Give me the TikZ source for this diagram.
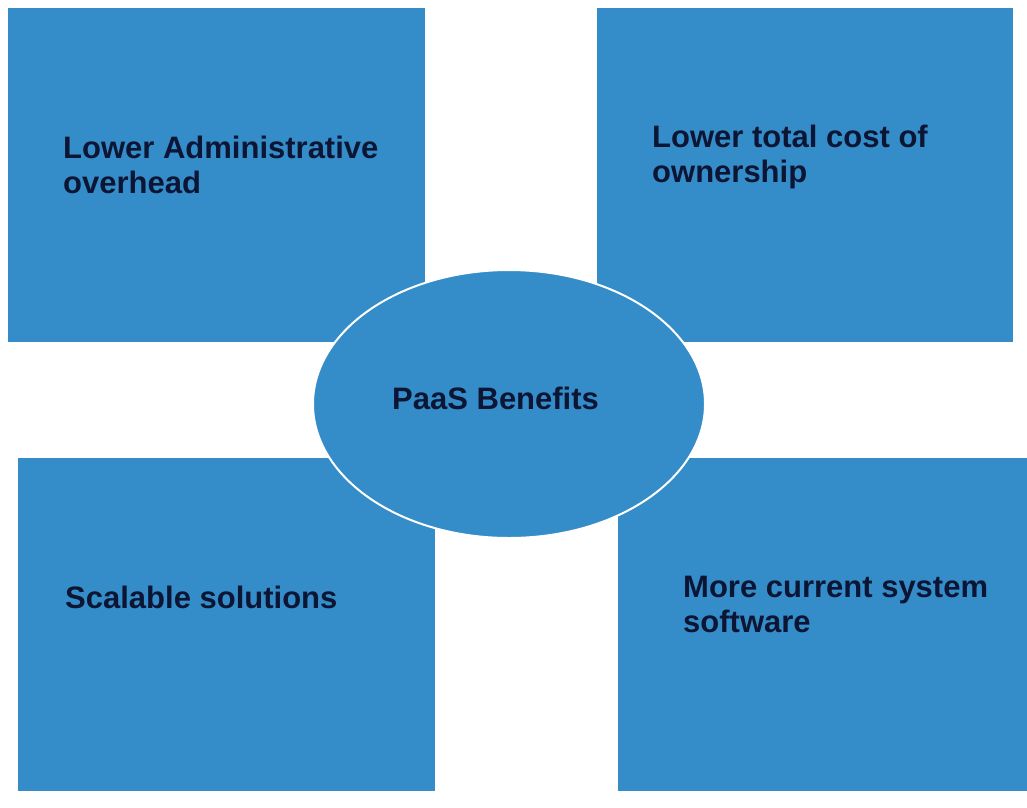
\documentclass[tikz,border=0pt]{standalone}
\usepackage{fontspec}
\setmainfont{Liberation Sans}
\usepackage{tikz}
\usetikzlibrary{shapes.geometric}
\definecolor{paasblue}{RGB}{52,141,201}
\definecolor{paasink}{RGB}{12,22,52}

\begin{document}
\begin{tikzpicture}[x=1pt, y=-1pt,
    benefitbox/.style={fill=paasblue, draw=none, inner sep=0, anchor=north west},
    benefittext/.style={anchor=base west, align=left, inner sep=0, text=paasink,
        font=\fontsize{31}{35}\selectfont\bfseries}]
            \useasboundingbox[fill=white] (0,0) rectangle (1027,807);
            % the four boxes
            \node[benefitbox, minimum width=417pt, minimum height=334pt] (admin) at (8,8) {};
            \node[benefitbox, minimum width=416pt, minimum height=334pt] (cost) at (597,8) {};
            \node[benefitbox, minimum width=417pt, minimum height=333pt] (scale) at (18,458) {};
            \node[benefitbox, minimum width=409pt, minimum height=333pt] (current) at (618,458) {};
            % centre
            \node[ellipse, fill=paasblue, draw=white, line width=2pt, inner sep=0,
                minimum width=392pt, minimum height=268pt] (paas) at (509,404) {};
            % texts (base = last line)
            \node[benefittext] (admintext) at (63,193) {Lower Administrative\\overhead};
            \node[benefittext] (costtext) at (652,182) {Lower total cost of\\ownership};
            \node[benefittext] (scaletext) at (65,608) {Scalable solutions};
            \node[benefittext] (currenttext) at (683,632) {More current system\\software};
            \node[benefittext] (paastext) at (392,409) {PaaS Benefits};
        \end{tikzpicture}
\end{document}
